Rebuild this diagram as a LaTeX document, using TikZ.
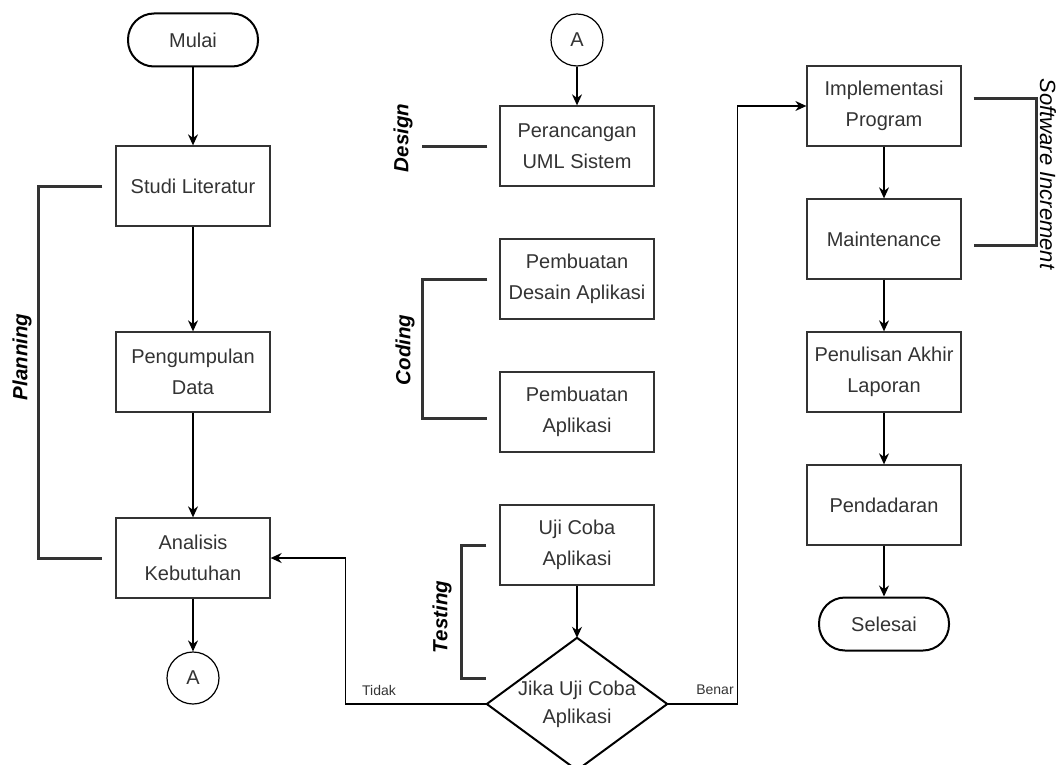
\documentclass[tikz,border=0pt]{standalone}
\usepackage{fontspec}
\setmainfont{Liberation Sans}
\usetikzlibrary{arrows.meta}
\definecolor{garis}{RGB}{51,51,51}

\begin{document}
\begin{tikzpicture}[x=1pt, y=-1pt,
		proses/.style={draw=garis, line width=1.3pt, minimum width=154pt, minimum height=80pt, inner sep=0pt, align=center, text=garis, font=\fontsize{20}{31}\selectfont},
		terminal/.style={draw=black, line width=2pt, rounded corners=26pt, minimum width=130pt, minimum height=53pt, inner sep=0pt, text=garis, font=\fontsize{20}{24}\selectfont},
		konektor/.style={circle, draw=black, line width=1.2pt, minimum size=52pt, inner sep=0pt, text=garis, font=\fontsize{20}{24}\selectfont},
		alur/.style={-{Stealth[length=11pt,width=10pt]}, line width=1.3pt},
		fase/.style={draw=garis, line width=3pt},
		fasetext/.style={font=\fontsize{20.5}{24}\selectfont\bfseries\itshape, rotate=90},
		ket/.style={font=\fontsize{14}{16}\selectfont, text=garis}]
		\useasboundingbox (0,0) rectangle (1062,765);
		% kolom kiri
		\node[terminal] (mulai) at (193,40) {Mulai};
		\node[proses] (studi) at (193,186) {Studi Literatur};
		\node[proses] (kumpul) at (193,372) {Pengumpulan\\Data};
		\node[proses] (analisis) at (193,558) {Analisis\\Kebutuhan};
		\node[konektor] (konA1) at (193,678) {A};
		% kolom tengah
		\node[konektor] (konA2) at (577,40) {A};
		\node[proses] (uml) at (577,146) {Perancangan\\UML Sistem};
		\node[proses] (desain) at (577,279) {Pembuatan\\Desain Aplikasi};
		\node[proses] (buat) at (577,412) {Pembuatan\\Aplikasi};
		\node[proses] (uji) at (577,545) {Uji Coba\\Aplikasi};
		\node[minimum width=180pt, minimum height=132pt, inner sep=0pt, align=center, text=garis, font=\fontsize{20}{28}\selectfont] (jika) at (577,704) {Jika Uji Coba\\Aplikasi};
		\draw[line width=2pt] (jika.north) -- (jika.east) -- (jika.south) -- (jika.west) -- cycle;
		% kolom kanan
		\node[proses] (impl) at (884,106) {Implementasi\\Program};
		\node[proses] (maint) at (884,239) {Maintenance};
		\node[proses] (tulis) at (884,372) {Penulisan Akhir\\Laporan};
		\node[proses] (dadar) at (884,505) {Pendadaran};
		\node[terminal] (selesai) at (884,624) {Selesai};
		% alur
		\draw[alur] (mulai) -- (studi);
		\draw[alur] (studi) -- (kumpul);
		\draw[alur] (kumpul) -- (analisis);
		\draw[alur] (analisis) -- (konA1);
		\draw[alur] (konA2) -- (uml);
		\draw[alur] (uji) -- (jika);
		\draw[alur] (impl) -- (maint);
		\draw[alur] (maint) -- (tulis);
		\draw[alur] (tulis) -- (dadar);
		\draw[alur] (dadar) -- (selesai);
		\draw[alur] (jika.west) -- ++(-141,0) |- (analisis.east);
		\draw[alur] (jika.east) -- ++(70,0) |- (impl.west);
		\node[ket] (tidak) at (379,690) {Tidak};
		\node[ket] (benar) at (715,690) {Benar};
		% fase
		\draw[fase] ([xshift=-13pt]studi.west) -- ++(-64,0) |- ([xshift=-13pt]analisis.west);
		\draw[fase] ([xshift=-12pt]uml.west) -- ++(-65,0);
		\draw[fase] ([xshift=-12pt]desain.west) -- ++(-65,0) |- ([xshift=-12pt,yshift=-6pt]buat.west);
		\draw[fase] ([xshift=-13pt]uji.west) -- ++(-25,0) -- ++(0,133) -- ++(25,0);
		\draw[fase] ([xshift=12pt,yshift=7pt]impl.east) -- ++(63,0) |- ([xshift=12pt,yshift=-6pt]maint.east);
		\node[fasetext] (planning) at (22,357) {Planning};
		\node[fasetext] (design) at (403,138) {Design};
		\node[fasetext] (coding) at (405,350) {Coding};
		\node[fasetext] (testing) at (442,617) {Testing};
		\node[fasetext, font=\fontsize{22}{26}\selectfont\itshape, rotate=180] (increment) at (1048,174) {Software Increment};
	\end{tikzpicture}
\end{document}
